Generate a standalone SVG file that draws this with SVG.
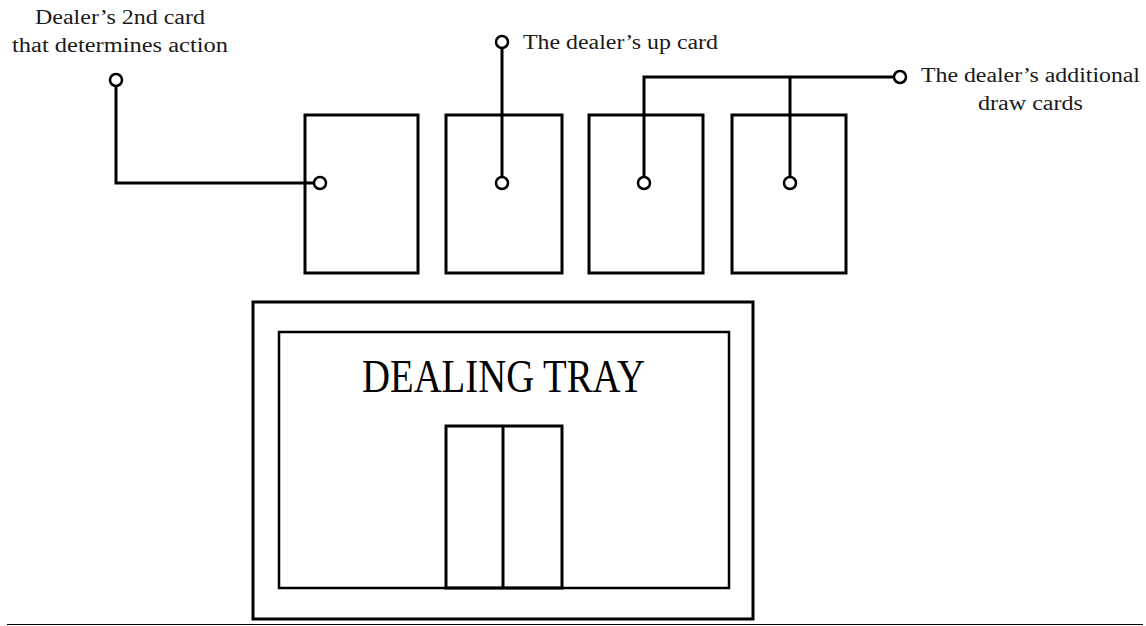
<svg xmlns="http://www.w3.org/2000/svg" width="1146" height="626" viewBox="0 0 1146 626">
<style>
.box{fill:none;stroke:#000;stroke-width:3}
.thin{fill:none;stroke:#000;stroke-width:2.5}
.ln{fill:none;stroke:#000;stroke-width:3}
.dot{fill:#fff;stroke:#000;stroke-width:2.5}
.lbl{font-size:20px;fill:#1a1a1a}
.big{font-size:46px;fill:#000}
</style>
<rect width="1146" height="626" fill="#fff"/>
<g id="card1"><rect class="box" x="305" y="115" width="113" height="158"/></g>
<g id="card2"><rect class="box" x="446" y="115" width="116" height="158"/></g>
<g id="card3"><rect class="box" x="589" y="115" width="114" height="158"/></g>
<g id="card4"><rect class="box" x="732" y="115" width="114" height="158"/></g>
<g id="tray">
<rect class="box" x="253" y="302" width="500" height="317"/>
<rect class="thin" x="279" y="332" width="450" height="256"/>
<text class="big" font-family="'Liberation Serif', Tinos, 'Times New Roman', 'DejaVu Serif', serif" x="362" y="392" textLength="283" lengthAdjust="spacingAndGlyphs">DEALING TRAY</text>
<rect class="box" x="446" y="426" width="116" height="162"/>
<line class="ln" x1="503" y1="426" x2="503" y2="588"/>
</g>
<g id="connectors">
<polyline class="ln" points="116,86 116,183 314,183"/>
<line class="ln" x1="502" y1="48" x2="502" y2="177"/>
<polyline class="ln" points="644,177 644,77 894,77"/>
<line class="ln" x1="790" y1="77" x2="790" y2="177"/>
<circle class="dot" cx="116" cy="80" r="6"/>
<circle class="dot" cx="320" cy="183" r="6"/>
<circle class="dot" cx="502" cy="42" r="6"/>
<circle class="dot" cx="502" cy="183" r="6"/>
<circle class="dot" cx="644" cy="183" r="6"/>
<circle class="dot" cx="790" cy="183" r="6"/>
<circle class="dot" cx="900" cy="77" r="6"/>
</g>
<g id="labels" font-family="'Liberation Serif', Tinos, 'Times New Roman', 'DejaVu Serif', serif">
<text class="lbl" x="35" y="24" textLength="170" lengthAdjust="spacingAndGlyphs">Dealer’s 2nd card</text>
<text class="lbl" x="12" y="52" textLength="216" lengthAdjust="spacingAndGlyphs">that determines action</text>
<text class="lbl" x="523" y="49" textLength="195" lengthAdjust="spacingAndGlyphs">The dealer’s up card</text>
<text class="lbl" x="921" y="82" textLength="219" lengthAdjust="spacingAndGlyphs">The dealer’s additional</text>
<text class="lbl" x="978" y="110" textLength="105" lengthAdjust="spacingAndGlyphs">draw cards</text>
</g>
<line x1="7" y1="624.5" x2="1143" y2="624.5" stroke="#000" stroke-width="1.2"/>
</svg>
